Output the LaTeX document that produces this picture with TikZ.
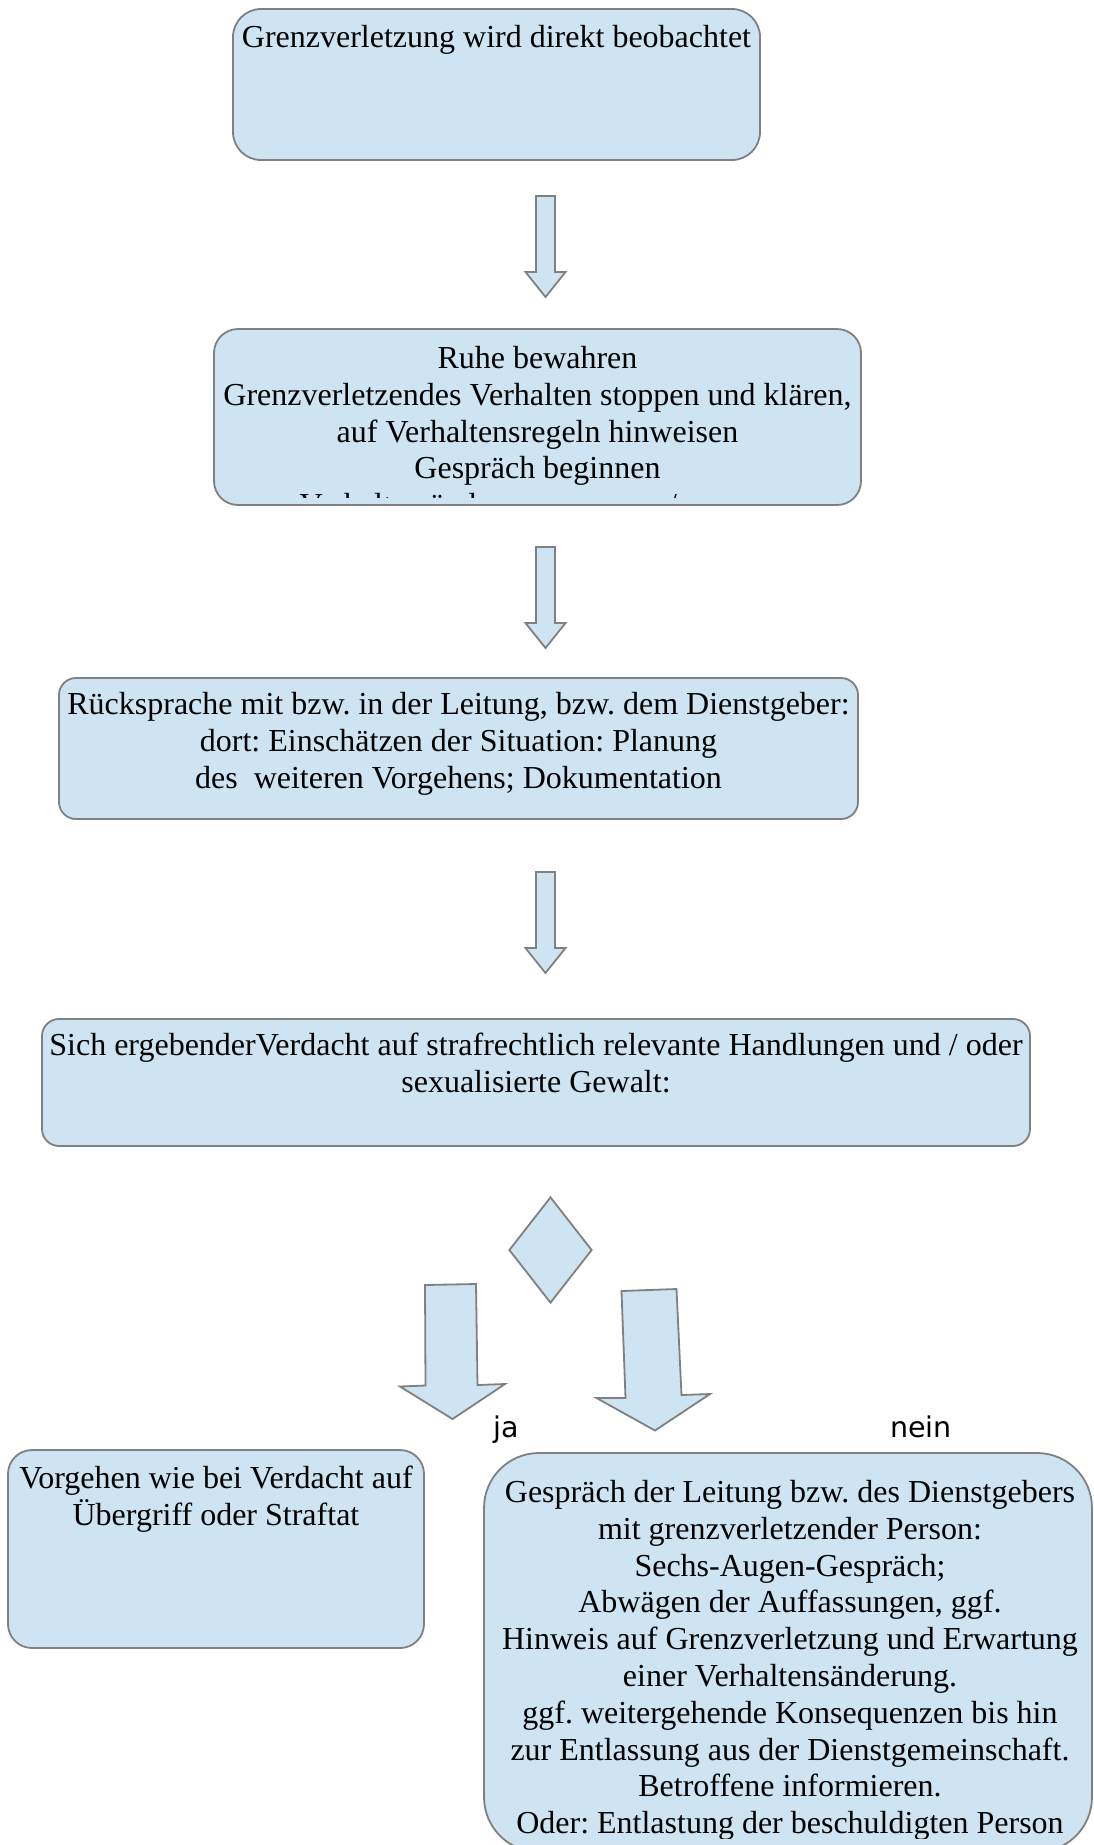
\documentclass[tikz,border=0pt]{standalone}
\usepackage{fontspec}
\setmainfont{Liberation Serif}
\newfontfamily\markefont{DejaVu Sans}
\usetikzlibrary{positioning,shapes.geometric}
\frenchspacing

\definecolor{hellblau}{RGB}{207,228,242}
\definecolor{rahmen}{RGB}{128,128,128}

\tikzset{
    kasten/.style={draw=rahmen, fill=hellblau, line width=1.8pt, inner sep=0pt},
    inhalt/.style={align=center, inner sep=0pt, font=\fontsize{32}{36.8}\selectfont},
    pfeil/.style={draw=rahmen, fill=hellblau, line width=1.8pt, line join=miter},
    entscheidung/.style={diamond, draw=rahmen, fill=hellblau, line width=1.8pt, inner sep=0pt},
    marke/.style={font=\markefont\fontsize{28.5}{32}\selectfont, inner sep=0pt}
}

\begin{document}
\begin{tikzpicture}[x=1pt, y=-1pt]
            \useasboundingbox ( 0, 0 ) rectangle ( 1094, 1845 );
            \clip ( 0, 0 ) rectangle ( 1094, 1845 );

            % Kästen
            \node [kasten, minimum width=527pt, minimum height=151pt, rounded corners=28pt] (start) at ( 496.5, 84.5 ) {};
            \node [inhalt, below=17pt of start.north] (startText) {Grenzverletzung wird direkt beobachtet};

            \node [kasten, minimum width=647pt, minimum height=176pt, rounded corners=24pt] (ruhe) at ( 537.5, 417 ) {};
            \begin{scope}
                \clip ( 214, 329 ) rectangle ( 861, 497 );
                \node [inhalt, below=18pt of ruhe.north] (ruheText) {Ruhe bewahren\\
                    Grenzverletzendes Verhalten stoppen und klären,\\
                    auf Verhaltensregeln hinweisen\\
                    Gespräch beginnen\\
                    \makebox[476pt][l]{Verhalten ändern\hspace{151pt}/}};
            \end{scope}

            \node [kasten, minimum width=799pt, minimum height=141pt, rounded corners=17pt] (leitung) at ( 458.5, 748.5 ) {};
            \node [inhalt, below=15pt of leitung.north] (leitungText) {Rücksprache mit bzw. in der Leitung, bzw. dem Dienstgeber:\\
                dort: Einschätzen der Situation: Planung\\
                des~ weiteren Vorgehens; Dokumentation};

            \node [kasten, minimum width=988pt, minimum height=127pt, rounded corners=17pt] (verdacht) at ( 536, 1082.5 ) {};
            \node [inhalt, below=15pt of verdacht.north] (verdachtText) {Sich ergebenderVerdacht auf strafrechtlich relevante Handlungen und / oder\\
                sexualisierte Gewalt:};

            \node [kasten, minimum width=416pt, minimum height=198pt, rounded corners=24pt] (vorgehen) at ( 216, 1549 ) {};
            \node [inhalt, below=17pt of vorgehen.north] (vorgehenText) {Vorgehen wie bei Verdacht auf\\
                Übergriff oder Straftat};

            \node [kasten, minimum width=608pt, minimum height=399pt, rounded corners=55pt] (gespraech) at ( 788, 1652.5 ) {};
            \begin{scope}
                \clip ( 484, 1453 ) rectangle ( 1092, 1838 );
                \node [inhalt, below=28pt of gespraech.north, xshift=2pt] (gespraechText) {Gespräch der Leitung bzw. des Dienstgebers\\
                    mit grenzverletzender Person:\\
                    Sechs-Augen-Gespräch;\\
                    Abwägen der Auffassungen, ggf.\\
                    Hinweis auf Grenzverletzung und Erwartung\\
                    einer Verhaltensänderung.\\
                    ggf. weitergehende Konsequenzen bis hin\\
                    zur Entlassung aus der Dienstgemeinschaft.\\
                    Betroffene informieren.\\
                    Oder: Entlastung der beschuldigten Person};
            \end{scope}

            % Pfeile
            \draw [pfeil] ( 536, 196 ) -- ++( 19, 0 ) -- ++( 0, 76 ) -- ++( 10.5, 0 ) -- ++( -20, 25 ) -- ++( -20, -25 ) -- ++( 10.5, 0 ) -- cycle;
            \draw [pfeil] ( 536, 547 ) -- ++( 19, 0 ) -- ++( 0, 76 ) -- ++( 10.5, 0 ) -- ++( -20, 25 ) -- ++( -20, -25 ) -- ++( 10.5, 0 ) -- cycle;
            \draw [pfeil] ( 536, 872 ) -- ++( 19, 0 ) -- ++( 0, 76 ) -- ++( 10.5, 0 ) -- ++( -20, 25 ) -- ++( -20, -25 ) -- ++( 10.5, 0 ) -- cycle;

            % Entscheidung
            \node [entscheidung, minimum width=83pt, minimum height=106pt] (raute) at ( 550.5, 1250 ) {};
            \draw [pfeil] ( 425, 1285 ) -- ( 476, 1284 ) -- ( 477.5, 1385 ) -- ( 505, 1384 ) -- ( 452.5, 1419 ) -- ( 400, 1386.5 ) -- ( 425.5, 1385.5 ) -- cycle;
            \draw [pfeil] ( 621.5, 1291 ) -- ( 676.5, 1289 ) -- ( 681.5, 1395 ) -- ( 710, 1394 ) -- ( 655, 1430.5 ) -- ( 596.5, 1398 ) -- ( 625.5, 1398 ) -- cycle;

            % Beschriftung
            \node [marke, anchor=base] (ja) at ( 506, 1437 ) {ja};
            \node [marke, anchor=base] (nein) at ( 921, 1437 ) {nein};
\end{tikzpicture}
\end{document}
